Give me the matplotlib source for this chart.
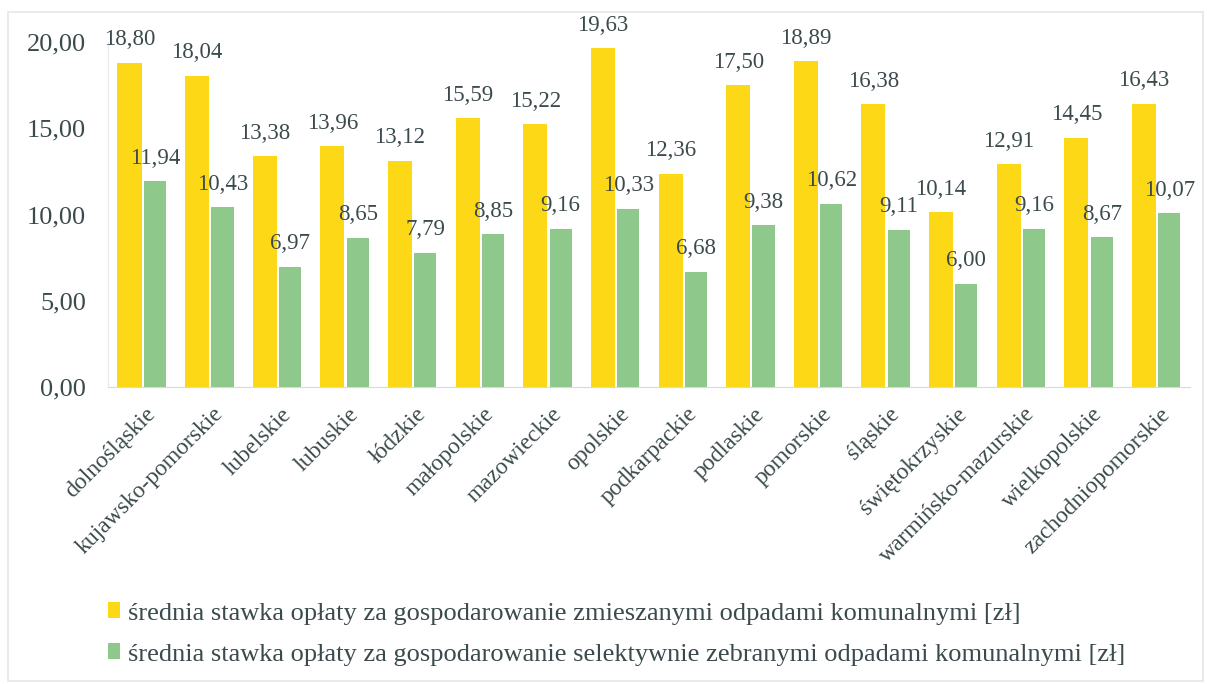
import matplotlib
matplotlib.use("Agg")
import matplotlib.pyplot as plt
import numpy as np
from matplotlib.patches import Rectangle

categories = ["dolnośląskie", "kujawsko-pomorskie", "lubelskie", "lubuskie", "łódzkie",
              "małopolskie", "mazowieckie", "opolskie", "podkarpackie", "podlaskie",
              "pomorskie", "śląskie", "świętokrzyskie", "warmińsko-mazurskie",
              "wielkopolskie", "zachodniopomorskie"]
mixed = [18.80, 18.04, 13.38, 13.96, 13.12, 15.59, 15.22, 19.63, 12.36, 17.50,
         18.89, 16.38, 10.14, 12.91, 14.45, 16.43]
selective = [11.94, 10.43, 6.97, 8.65, 7.79, 8.85, 9.16, 10.33, 6.68, 9.38,
             10.62, 9.11, 6.00, 9.16, 8.67, 10.07]
series_names = ["średnia stawka opłaty za gospodarowanie zmieszanymi odpadami komunalnymi [zł]",
                "średnia stawka opłaty za gospodarowanie selektywnie zebranymi odpadami komunalnymi [zł]"]
yticks = [0, 5, 10, 15, 20]

plt.rcParams['font.family'] = ['Liberation Serif', 'DejaVu Serif']
TXT = '#3b4a4c'
YEL = '#FDD816'
GRN = '#8EC88B'

fig = plt.figure(figsize=(12.07, 6.84), dpi=100)
fig.patches.append(Rectangle((0.007, 0.005), 0.99, 0.978, transform=fig.transFigure,
                             fill=False, edgecolor='#e6e6e6', linewidth=1.2))
ax = fig.add_axes([0.0895, 0.4342, 0.8965, 0.5044])

x = np.arange(len(categories))
w = 0.355
b1 = ax.bar(x - w/2 - 0.005, mixed, w, color=YEL, label=series_names[0])
b2 = ax.bar(x + w/2 + 0.015, selective, w * 0.92, color=GRN, label=series_names[1])

def fmt(v):
    return f"{v:.2f}".replace('.', ',')

for rect, v in zip(b1, mixed):
    ax.annotate(fmt(v), (rect.get_x() + rect.get_width()/2, v), xytext=(0, 9),
                textcoords='offset points', ha='center', va='bottom',
                fontsize=16.5, color=TXT, annotation_clip=False)
for rect, v in zip(b2, selective):
    ax.annotate(fmt(v), (rect.get_x() + rect.get_width()/2, v), xytext=(0, 9),
                textcoords='offset points', ha='center', va='bottom',
                fontsize=16.5, color=TXT, annotation_clip=False)

ax.set_xlim(-0.5, len(categories) - 0.5)
ax.set_ylim(0, 20)
ax.set_yticks(yticks)
ax.set_yticklabels([fmt(t) for t in yticks], fontsize=19, color=TXT)
ax.set_xticks(x + 0.05)
ax.set_xticklabels(categories, rotation=45, ha='right', rotation_mode='anchor',
                   fontsize=17, color=TXT)
ax.tick_params(axis='both', length=0)
ax.tick_params(axis='y', pad=16)
ax.tick_params(axis='x', pad=12)
for s in ['top', 'right']:
    ax.spines[s].set_visible(False)
ax.spines['left'].set_color('#e8e8e8')
ax.spines['bottom'].set_color('#d9d9d9')

fig.legend(handles=[b1, b2], labels=series_names, loc='center left',
           bbox_to_anchor=(0.0895, 0.0731), frameon=False, fontsize=19,
           handlelength=0.45, handleheight=0.55, handletextpad=0.3,
           labelspacing=0.7, labelcolor=TXT, borderaxespad=0, borderpad=0)

fig.savefig("out.png", dpi=100, facecolor='white')
